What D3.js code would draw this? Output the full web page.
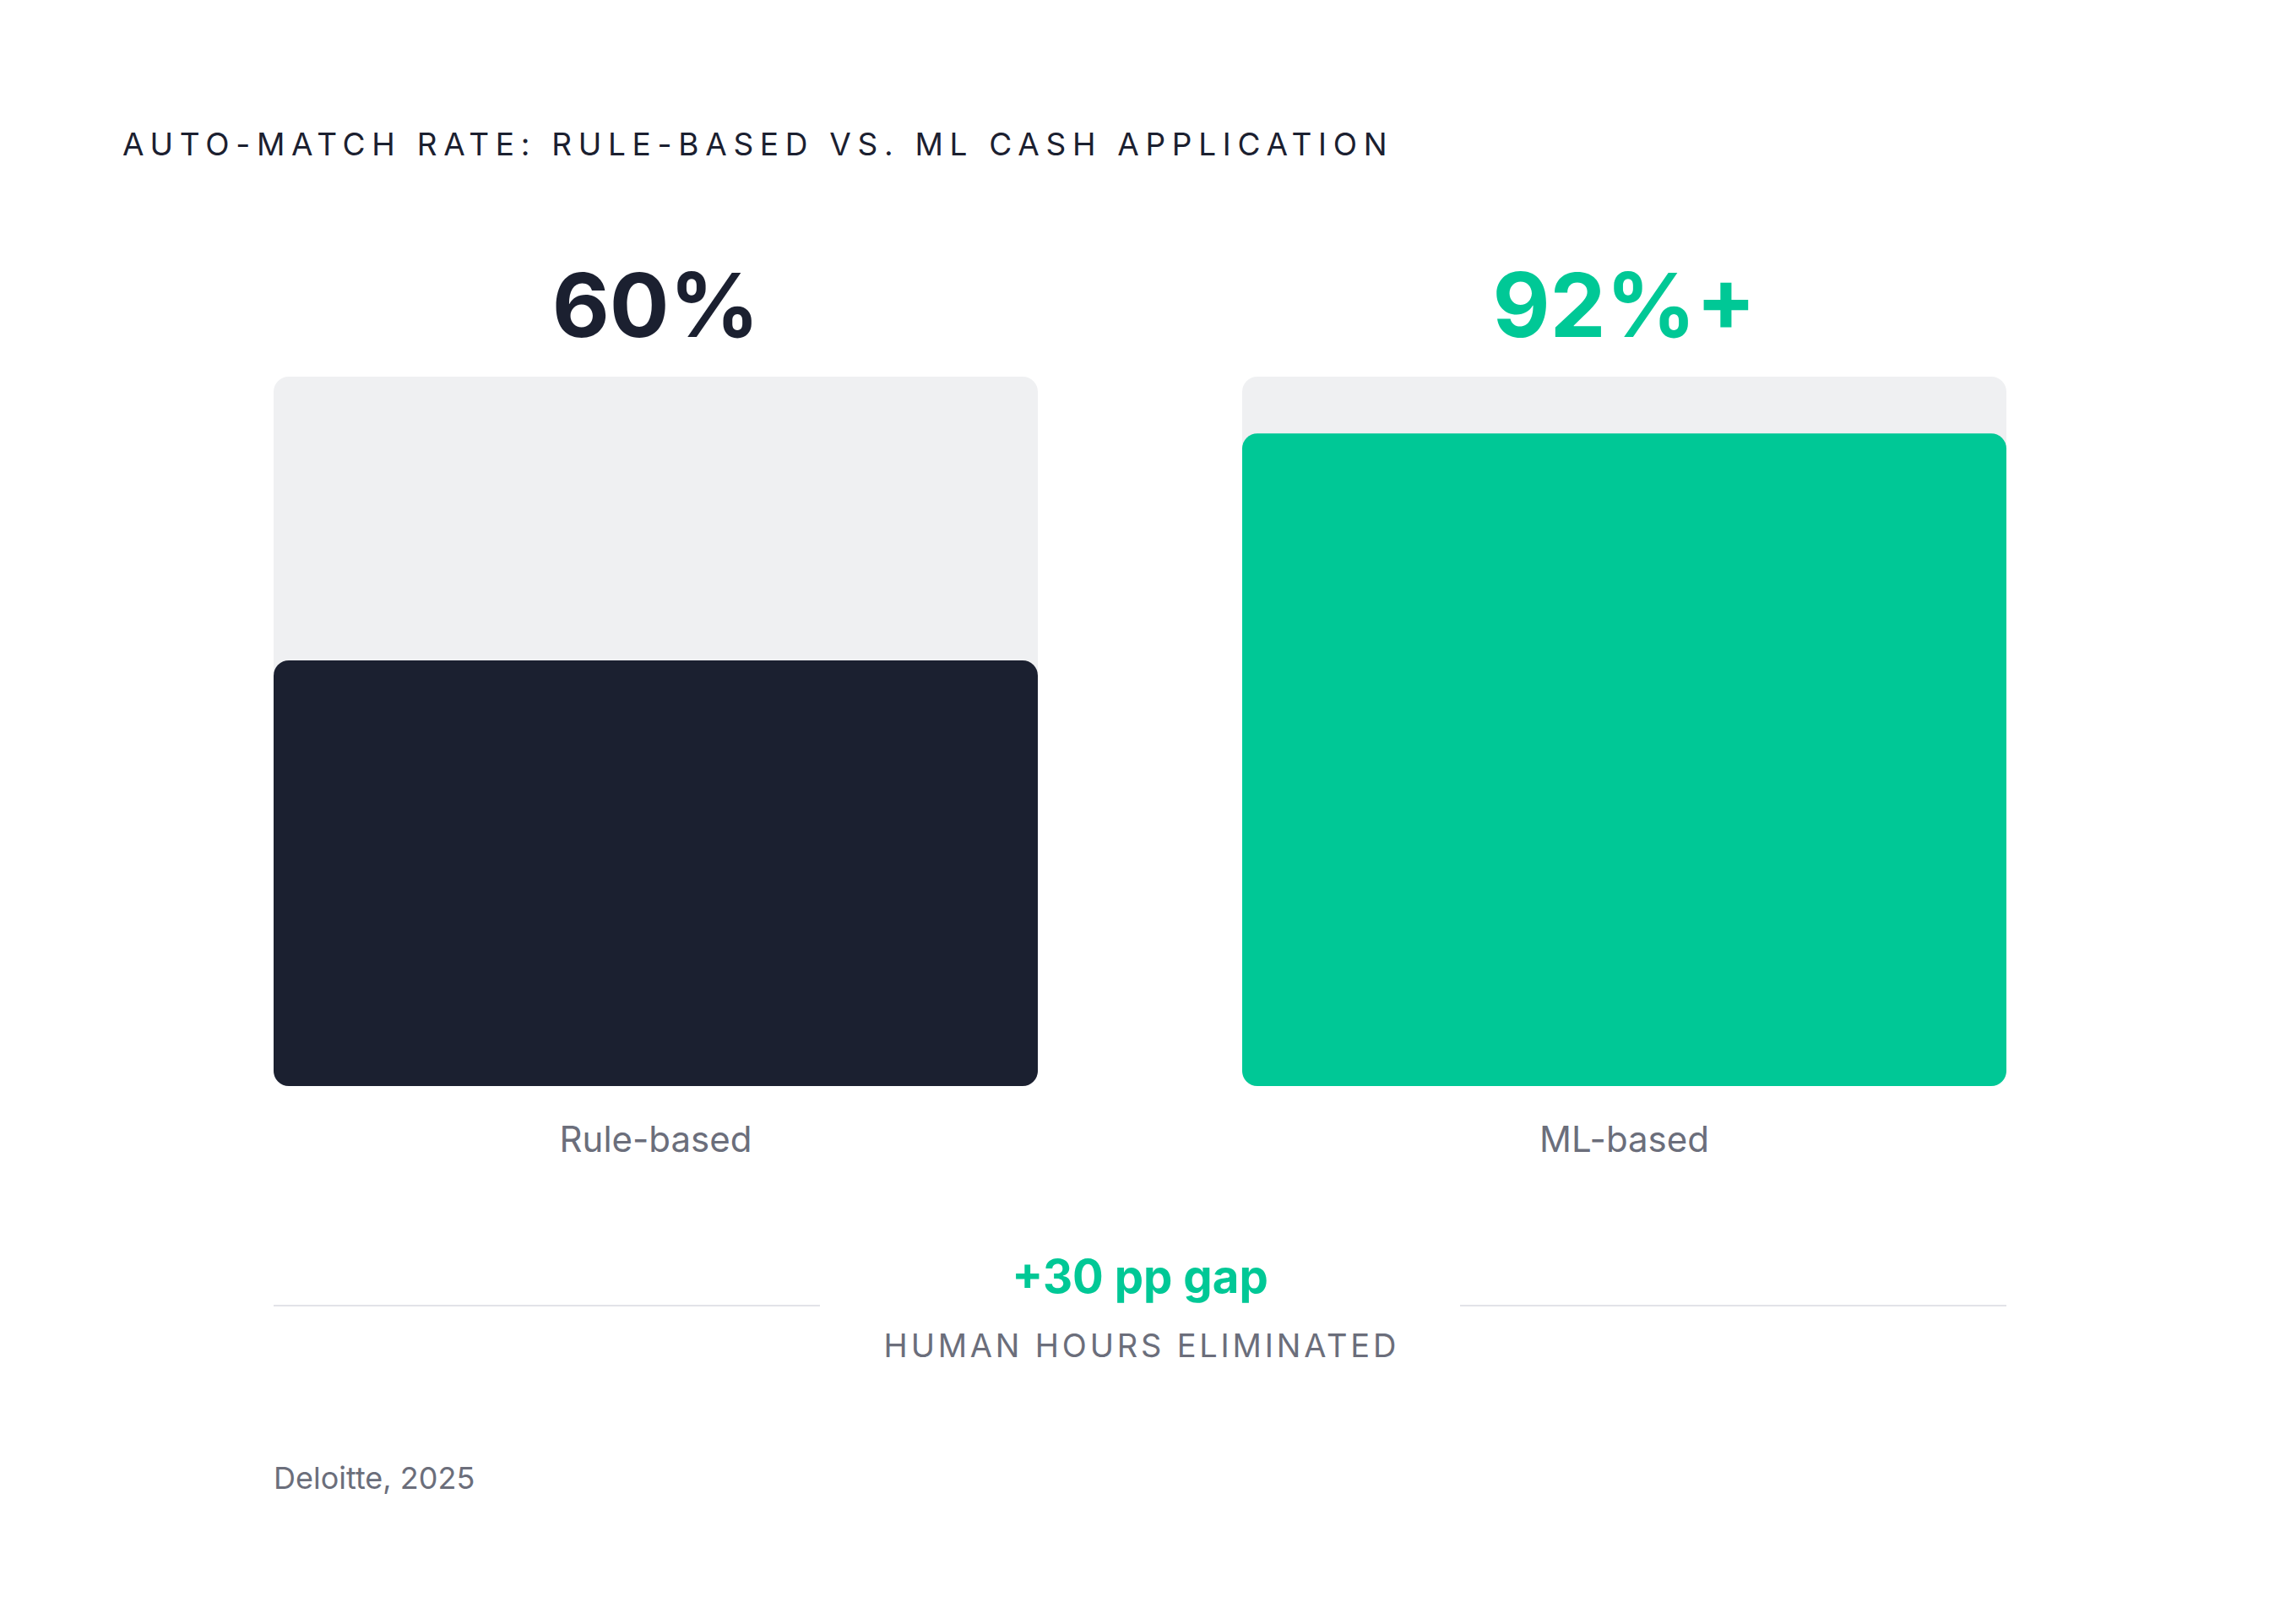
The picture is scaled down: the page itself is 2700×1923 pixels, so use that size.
<!DOCTYPE html>
<html>
<head>
<meta charset="utf-8">
<script src="https://cdn.jsdelivr.net/npm/d3@7/dist/d3.min.js"></script>
<style>
  html, body { margin: 0; padding: 0; background: #ffffff; }
  svg { display: block; font-family: Inter, "Noto Sans", sans-serif; }
</style>
</head>
<body>
<script>
// ---- data ----
const categories = ["Rule-based", "ML-based"];
const values = [60, 92];
const valueLabels = ["60%", "92%+"];
const barColors = ["#1b2030", "#00c896"];
const labelColors = ["#1b2030", "#00c896"];
const titleText = "AUTO-MATCH RATE: RULE-BASED VS. ML CASH APPLICATION";
const gapLabel = "+30 pp gap";
const gapSubLabel = "HUMAN HOURS ELIMINATED";
const sourceText = "Deloitte, 2025";
const domainMax = 100;

// ---- layout ----
const W = 2700, H = 1923;
const svg = d3.select("body").append("svg").attr("width", W).attr("height", H);
svg.append("rect").attr("width", W).attr("height", H).attr("fill", "#ffffff");

const x = d3.scaleBand().domain(categories).range([324, 2376]).paddingInner(0.211).paddingOuter(0);
const y = d3.scaleLinear().domain([0, domainMax]).range([1286, 446]);
const r = 18;

// title
svg.append("text")
  .attr("x", 145).attr("y", 184)
  .attr("font-size", 37).attr("font-weight", 400)
  .attr("letter-spacing", "7.7px")
  .attr("fill", "#1b2030")
  .text(titleText);

const g = svg.append("g");
const bars = g.selectAll("g.bar").data(categories).join("g").attr("class", "bar");

// track
bars.append("rect")
  .attr("x", d => x(d)).attr("width", x.bandwidth())
  .attr("y", y(domainMax)).attr("height", y(0) - y(domainMax))
  .attr("rx", r).attr("ry", r)
  .attr("fill", "#eff0f2");

// value bar
bars.append("rect")
  .attr("x", d => x(d)).attr("width", x.bandwidth())
  .attr("y", (d, i) => y(values[i])).attr("height", (d, i) => y(0) - y(values[i]))
  .attr("rx", r).attr("ry", r)
  .attr("fill", (d, i) => barColors[i]);

// value labels
bars.append("text")
  .attr("x", d => x(d) + x.bandwidth() / 2).attr("y", 399)
  .attr("text-anchor", "middle")
  .attr("font-size", 105).attr("font-weight", 700)
  .attr("fill", (d, i) => labelColors[i])
  .text((d, i) => valueLabels[i]);

// category labels
bars.append("text")
  .attr("x", d => x(d) + x.bandwidth() / 2).attr("y", 1364)
  .attr("text-anchor", "middle")
  .attr("font-size", 42).attr("font-weight", 400)
  .attr("fill", "#6b6e7b")
  .text(d => d);

// gap annotation
const [x0, x1] = x.range();
const cx = (x0 + x1) / 2;
svg.append("line").attr("x1", x0).attr("x2", cx - 379).attr("y1", 1546).attr("y2", 1546)
  .attr("stroke", "#e2e3e8").attr("stroke-width", 2);
svg.append("line").attr("x1", cx + 379).attr("x2", x1).attr("y1", 1546).attr("y2", 1546)
  .attr("stroke", "#e2e3e8").attr("stroke-width", 2);

svg.append("text")
  .attr("x", cx).attr("y", 1531)
  .attr("text-anchor", "middle")
  .attr("font-size", 54.5).attr("font-weight", 700)
  .attr("fill", "#00c896")
  .text(gapLabel);

svg.append("text")
  .attr("x", cx + 1.9).attr("y", 1607)
  .attr("text-anchor", "middle")
  .attr("font-size", 38).attr("font-weight", 400)
  .attr("letter-spacing", "3.8px")
  .attr("fill", "#6b6e7b")
  .text(gapSubLabel);

// source
svg.append("text")
  .attr("x", 324).attr("y", 1763)
  .attr("font-size", 36).attr("font-weight", 400)
  .attr("fill", "#6b6e7b")
  .text(sourceText);
</script>
</body>
</html>
